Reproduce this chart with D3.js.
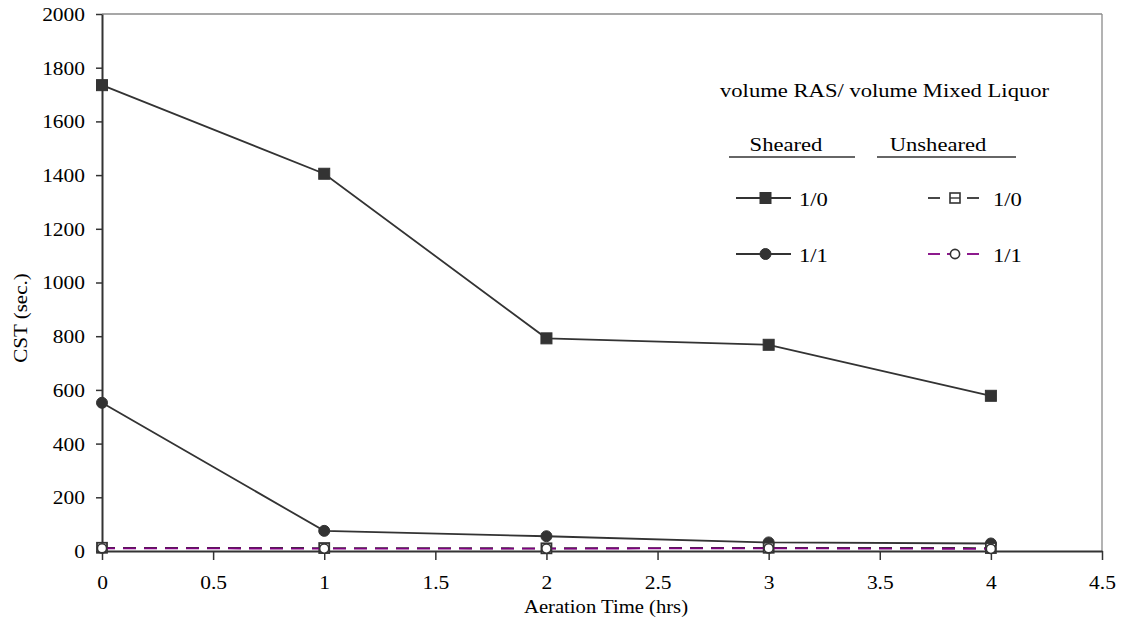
<!DOCTYPE html>
<html><head><meta charset="utf-8">
<script src="https://cdn.jsdelivr.net/npm/d3@7"></script>
<style>body{margin:0;background:#fff}svg{display:block}text{font-family:"Liberation Serif","Times New Roman",serif;fill:#000}</style>
</head><body><svg id="c" width="1130" height="624"></svg>
<script>
const times = [0, 1, 2, 3, 4];
const sheared10 = [1735, 1405, 792, 768, 578];
const sheared11 = [552, 75, 55, 32, 28];
const unsheared10 = [12, 11, 10, 12, 11];
const unsheared11 = [10, 9, 9, 10, 8];
const xTicks = [0, 0.5, 1, 1.5, 2, 2.5, 3, 3.5, 4, 4.5];
const yTicks = [0, 200, 400, 600, 800, 1000, 1200, 1400, 1600, 1800, 2000];
const legendTitle = "volume RAS/ volume Mixed Liquor";
const groupNames = ["Sheared", "Unsheared"];
const ratioLabels = ["1/0", "1/1"];

const svg = d3.select("#c");
const L = 102, R = 1102, T = 14, B = 551;
const x = d3.scaleLinear().domain([0, 4.5]).range([L, R]);
const y = d3.scaleLinear().domain([0, 2000]).range([B, T]);
const dark = "#333";
const purple = "#800080";

// helper: horizontally stretched text
function stext(g, tx, ty, str, size, sx, anchor) {
  return g.append("text")
    .attr("transform", `translate(${tx},${ty}) scale(${sx},1)`)
    .attr("text-anchor", anchor || "start")
    .style("font-size", size + "px").text(str);
}

// frame top/right gray
svg.append("line").attr("x1", L).attr("x2", R).attr("y1", T).attr("y2", T).attr("stroke", "#8a8a8a").attr("stroke-width", 1.3);
svg.append("line").attr("x1", R).attr("x2", R).attr("y1", T).attr("y2", B).attr("stroke", "#8a8a8a").attr("stroke-width", 1.3);

const xa = svg.append("g").attr("transform", `translate(0,${B})`)
  .call(d3.axisBottom(x).tickValues(xTicks).tickFormat(d => String(d)).tickSize(9).tickSizeOuter(0));
const ya = svg.append("g").attr("transform", `translate(${L},0)`)
  .call(d3.axisLeft(y).tickValues(yTicks).tickFormat(d => String(d)).tickSize(6).tickSizeOuter(0));
[xa, ya].forEach(a => {
  a.selectAll("path").attr("stroke", dark).attr("stroke-width", 2);
  a.selectAll("line").attr("stroke", dark).attr("stroke-width", 1.5);
  a.selectAll("text").style("font-size", "19.5px").style("font-family", "Liberation Serif");
});
xa.selectAll(".tick text").attr("y", null).attr("dy", null)
  .attr("transform", "translate(0,38) scale(1.1,1)");
ya.selectAll(".tick text").attr("x", null).attr("dy", "0.33em")
  .attr("transform", "translate(-17,0) scale(1.1,1)");

stext(svg, 606, 613, "Aeration Time (hrs)", 19.5, 1.06, "middle");
svg.append("text").attr("transform", "translate(27,318) rotate(-90) scale(1.08,1)")
  .attr("text-anchor", "middle").style("font-size", "19.5px").text("CST (sec.)");

const line = d3.line().x((d, i) => x(times[i])).y(d => y(d));

function drawMarker(g, cx, cy, marker, fill) {
  if (marker === "sq") {
    const s = fill === "open" ? 10 : 11;
    g.append("rect").attr("x", cx - s / 2).attr("y", cy - s / 2).attr("width", s).attr("height", s)
      .attr("fill", fill === "open" ? (fill === "none" ? "none" : "#fff") : dark)
      .attr("stroke", dark).attr("stroke-width", fill === "open" ? 1.8 : 1);
  } else if (marker === "sqline") {
    const s = 10;
    g.append("rect").attr("x", cx - s / 2).attr("y", cy - s / 2).attr("width", s).attr("height", s)
      .attr("fill", "none").attr("stroke", dark).attr("stroke-width", 1.6);
    g.append("line").attr("x1", cx - s / 2).attr("x2", cx + s / 2).attr("y1", cy).attr("y2", cy).attr("stroke", dark).attr("stroke-width", 1.4);
  } else {
    const r = fill === "open" ? 4.6 : 5.5;
    g.append("circle").attr("cx", cx).attr("cy", cy).attr("r", r)
      .attr("fill", fill === "open" ? "#fff" : dark).attr("stroke", dark).attr("stroke-width", fill === "open" ? 1.6 : 1);
  }
}
function series(vals, color, dash, marker, fill) {
  svg.append("path").datum(vals).attr("d", line).attr("fill", "none").attr("stroke", color)
    .attr("stroke-width", 1.8).attr("stroke-dasharray", dash);
  const g = svg.append("g");
  vals.forEach((v, i) => drawMarker(g, x(times[i]), y(v), marker, fill));
}

series(sheared10, dark, null, "sq", "solid");
series(sheared11, dark, null, "ci", "solid");
series(unsheared10, dark, "13,8", "sq", "open");
series(unsheared11, purple, "13,8", "ci", "open");

// legend
const lg = svg.append("g");
stext(lg, 720, 97, legendTitle, 19.5, 1.16, "start");
stext(lg, 786, 151, groupNames[0], 19.5, 1.16, "middle");
stext(lg, 938, 151, groupNames[1], 19.5, 1.16, "middle");
lg.append("line").attr("x1", 729).attr("x2", 855).attr("y1", 157).attr("y2", 157).attr("stroke", dark).attr("stroke-width", 1.6);
lg.append("line").attr("x1", 877).attr("x2", 1016).attr("y1", 157).attr("y2", 157).attr("stroke", dark).attr("stroke-width", 1.6);

const rowsY = [198, 254];
const markers = [["sq", "sqline"], ["ci", "ci"]];
rowsY.forEach((ry, i) => {
  lg.append("line").attr("x1", 736).attr("x2", 791).attr("y1", ry).attr("y2", ry).attr("stroke", dark).attr("stroke-width", 1.8);
  drawMarker(lg, 765.5, ry, markers[i][0], "solid");
  stext(lg, 799, ry + 8, ratioLabels[i], 19.5, 1.16, "start");
  const c = i === 0 ? dark : purple;
  lg.append("line").attr("x1", 928).attr("x2", 940).attr("y1", ry).attr("y2", ry).attr("stroke", c).attr("stroke-width", 1.8);
  if (i === 1) lg.append("line").attr("x1", 947).attr("x2", 951).attr("y1", ry).attr("y2", ry).attr("stroke", c).attr("stroke-width", 1.8);
  lg.append("line").attr("x1", 967).attr("x2", 979).attr("y1", ry).attr("y2", ry).attr("stroke", c).attr("stroke-width", 1.8);
  drawMarker(lg, 955, ry, markers[i][1], "open");
  stext(lg, 993, ry + 8, ratioLabels[i], 19.5, 1.16, "start");
});
</script></body></html>
